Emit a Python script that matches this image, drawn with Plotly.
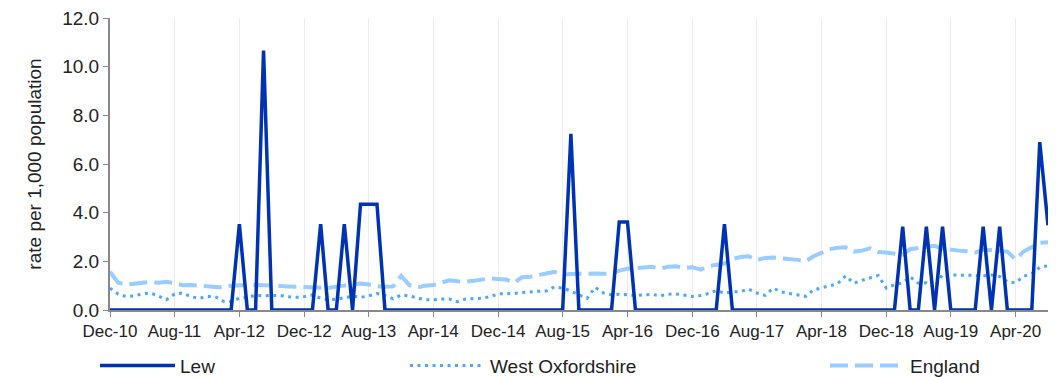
import pandas as pd
import plotly.graph_objects as go

# Monthly periods Dec-2010 .. Aug-2020
months = pd.date_range("2010-12-01", periods=117, freq="MS")

lew = [
    0, 0, 0, 0, 0, 0, 0, 0, 0, 0, 0, 0, 0, 0, 0, 0, 3.53, 0, 0, 10.66,
    0, 0, 0, 0, 0, 0, 3.53, 0, 0, 3.53, 0, 4.35, 4.35, 4.35, 0, 0, 0, 0, 0, 0,
    0, 0, 0, 0, 0, 0, 0, 0, 0, 0, 0, 0, 0, 0, 0, 0, 0, 7.24, 0, 0,
    0, 0, 0, 3.62, 3.62, 0, 0, 0, 0, 0, 0, 0, 0, 0, 0, 0, 3.53, 0, 0, 0,
    0, 0, 0, 0, 0, 0, 0, 0, 0, 0, 0, 0, 0, 0, 0, 0, 0, 0, 3.42, 0,
    0, 3.42, 0, 3.42, 0, 0, 0, 0, 3.42, 0, 3.42, 0, 0, 0, 0, 6.90, 3.48,
]

west_oxfordshire = [
    0.90, 0.65, 0.55, 0.58, 0.66, 0.70, 0.58, 0.42, 0.66, 0.70, 0.55, 0.48, 0.55, 0.55, 0.36, 0.35, 0.48, 0.52, 0.60, 0.58,
    0.60, 0.60, 0.55, 0.52, 0.55, 0.62, 0.48, 0.42, 0.44, 0.50, 0.57, 0.52, 0.58, 0.68, 0.60, 0.46, 0.62, 0.58, 0.50, 0.42,
    0.42, 0.45, 0.45, 0.34, 0.45, 0.46, 0.48, 0.55, 0.66, 0.68, 0.68, 0.72, 0.76, 0.77, 0.78, 0.95, 0.90, 0.78, 0.62, 0.48,
    0.93, 0.70, 0.62, 0.65, 0.62, 0.60, 0.62, 0.65, 0.58, 0.65, 0.66, 0.60, 0.56, 0.60, 0.68, 0.80, 0.70, 0.74, 0.76, 0.86,
    0.70, 0.60, 0.90, 0.74, 0.68, 0.62, 0.56, 0.82, 0.90, 1.00, 1.08, 1.40, 1.10, 1.22, 1.32, 1.42, 0.90, 1.04, 1.12, 1.36,
    1.10, 1.12, 0.94, 1.46, 1.44, 1.44, 1.44, 1.42, 1.40, 1.44, 1.38, 1.16, 1.12, 1.38, 1.50, 1.75, 1.82,
]

england = [
    1.57, 1.12, 1.05, 1.08, 1.12, 1.15, 1.12, 1.16, 1.10, 1.02, 1.03, 1.00, 0.99, 0.98, 0.92, 1.00, 1.03, 1.03, 1.03, 1.03,
    1.02, 0.99, 0.97, 0.96, 0.96, 0.95, 0.92, 0.90, 0.96, 1.00, 1.05, 1.09, 1.05, 0.98, 0.96, 0.97, 1.40, 1.02, 0.93, 1.00,
    1.03, 1.14, 1.22, 1.18, 1.16, 1.20, 1.26, 1.30, 1.27, 1.25, 1.12, 1.35, 1.37, 1.42, 1.50, 1.57, 1.46, 1.48, 1.50, 1.51,
    1.50, 1.49, 1.50, 1.62, 1.70, 1.72, 1.75, 1.78, 1.70, 1.78, 1.80, 1.72, 1.76, 1.66, 1.80, 1.86, 1.91, 2.10, 2.18, 2.21,
    2.05, 2.14, 2.16, 2.12, 2.10, 2.06, 2.00, 2.20, 2.35, 2.50, 2.56, 2.58, 2.40, 2.44, 2.53, 2.38, 2.36, 2.34, 2.28, 2.50,
    2.55, 2.58, 2.64, 2.52, 2.46, 2.44, 2.41, 2.36, 2.48, 2.47, 2.43, 2.40, 2.08, 2.40, 2.58, 2.76, 2.78,
]

FONT = "Liberation Sans, Arial, sans-serif"

fig = go.Figure()
fig.add_trace(go.Scatter(
    x=months, y=england, name="England", mode="lines",
    line=dict(color="#99ccff", width=4, dash="18px,7px"),
    legend="legend3",
))
fig.add_trace(go.Scatter(
    x=months, y=west_oxfordshire, name="West Oxfordshire", mode="lines",
    line=dict(color="#4da6ff", width=3, dash="3px,4.5px"),
    legend="legend2",
))
fig.add_trace(go.Scatter(
    x=months, y=lew, name="Lew", mode="lines",
    line=dict(color="#0033b3", width=3.5),
    legend="legend",
))

leg_common = dict(orientation="h", xref="container", yref="container",
                  yanchor="middle", y=0.03, xanchor="left",
                  font=dict(family=FONT, size=19, color="#222"),
                  itemwidth=75, bgcolor="rgba(0,0,0,0)")

fig.update_layout(
    width=1056, height=377,
    margin=dict(l=110, r=8, t=18, b=67),
    paper_bgcolor="white", plot_bgcolor="white",
    font=dict(family=FONT, size=16, color="#222"),
    showlegend=True,
    legend=dict(leg_common, x=95 / 1056),
    legend2=dict(leg_common, x=405 / 1056),
    legend3=dict(leg_common, x=825 / 1056),
    xaxis=dict(
        type="date",
        range=["2010-12-01", "2020-08-01"],
        tick0="2010-12-01", dtick="M8", tickformat="%b-%y",
        showgrid=True, gridcolor="#ececec", gridwidth=1,
        showline=True, linecolor="#888888", linewidth=2,
        ticks="outside", ticklen=5, tickcolor="#888888",
        tickfont=dict(family=FONT, size=17, color="#222"),
        zeroline=False, automargin=False,
    ),
    yaxis=dict(
        range=[0, 12], dtick=2, tickformat=".1f",
        showgrid=False, zeroline=False,
        showline=True, linecolor="#888888", linewidth=2,
        ticks="outside", ticklen=5, tickcolor="#888888",
        tickfont=dict(family=FONT, size=19, color="#222"),
        title=dict(text="rate per 1,000 population",
                   font=dict(family=FONT, size=19, color="#222"), standoff=16),
        automargin=False,
    ),
)

fig.write_html("out.html", config={"displayModeBar": False},
               post_script="document.body.style.margin='0px';")
